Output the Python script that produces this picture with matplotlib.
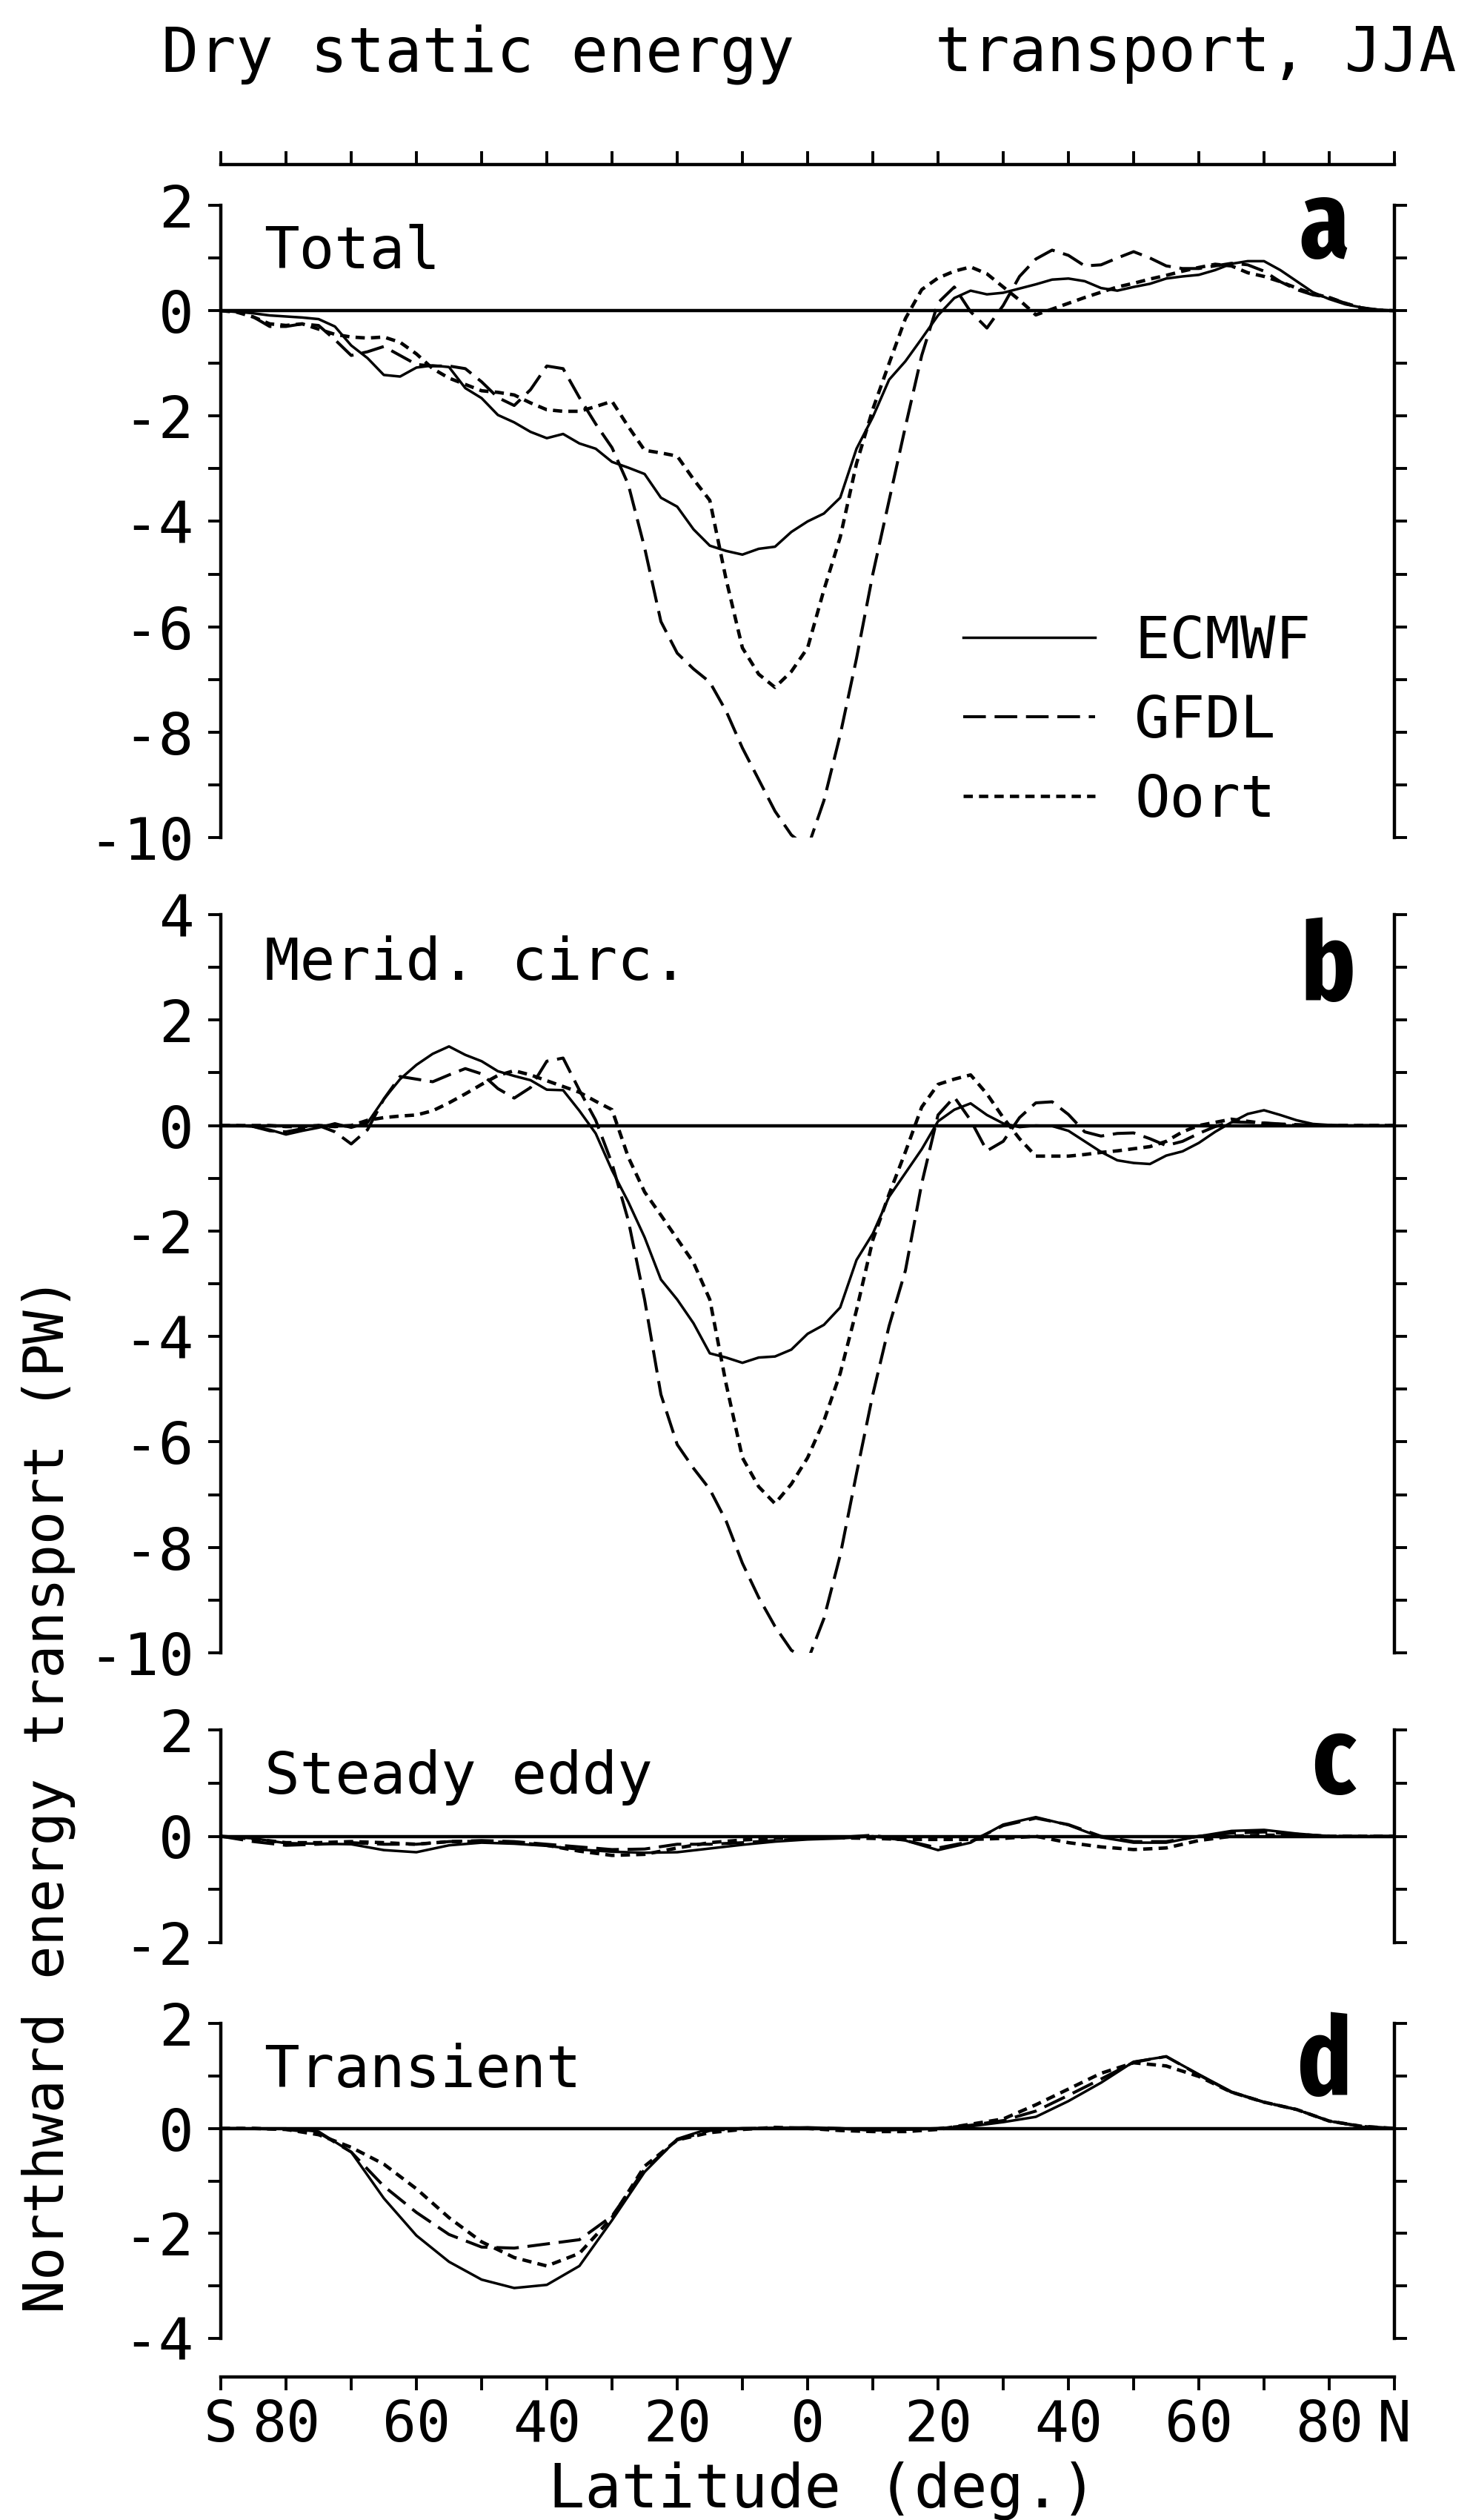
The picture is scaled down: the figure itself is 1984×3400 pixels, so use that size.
#!/usr/bin/env python3
"""
Dry static energy transport (JJA): total, mean meridional circulation,
steady eddy and transient eddy components for ECMWF, GFDL and Oort.
"""

import os

import matplotlib
matplotlib.use("Agg")
import matplotlib.pyplot as plt
import numpy as np
from matplotlib import font_manager

# latitude grids (deg, S negative)
lat_ab = np.arange(-90, 92.5, 2.5)
lat_cd = np.arange(-90, 95, 5)

# --- a: Total ---
total_ecmwf = [
    0.00, -0.02, -0.05, -0.09, -0.11, -0.13, -0.16, -0.30, -0.66, -0.90,
    -1.22, -1.25, -1.08, -1.04, -1.07, -1.47, -1.66, -1.98, -2.12, -2.30,
    -2.42, -2.34, -2.52, -2.62, -2.87, -2.98, -3.10, -3.55, -3.72, -4.15,
    -4.46, -4.56, -4.63, -4.52, -4.48, -4.20, -4.00, -3.85, -3.55, -2.62,
    -2.02, -1.31, -0.96, -0.53, -0.09, 0.24, 0.38, 0.31, 0.34, 0.42,
    0.50, 0.59, 0.61, 0.56, 0.43, 0.38, 0.45, 0.51, 0.61, 0.65,
    0.68, 0.77, 0.89, 0.94, 0.94, 0.77, 0.56, 0.35, 0.22, 0.12,
    0.06, 0.02, 0.00]
total_gfdl = [
    0.00, -0.02, -0.12, -0.30, -0.30, -0.25, -0.28, -0.55, -0.85, -0.78,
    -0.68, -0.85, -1.02, -1.05, -1.05, -1.10, -1.35, -1.65, -1.80, -1.50,
    -1.05, -1.10, -1.65, -2.15, -2.60, -3.30, -4.50, -5.90, -6.50, -6.80,
    -7.05, -7.60, -8.30, -8.90, -9.50, -9.95, -10.20, -9.30, -8.05, -6.60,
    -5.00, -3.60, -2.20, -0.85, 0.15, 0.45, -0.02, -0.33, 0.10, 0.65,
    0.98, 1.15, 1.05, 0.85, 0.87, 1.00, 1.12, 1.00, 0.85, 0.80,
    0.80, 0.85, 0.90, 0.87, 0.75, 0.55, 0.40, 0.30, 0.25, 0.14,
    0.05, 0.01, 0.00]
total_oort = [
    0.00, -0.03, -0.12, -0.25, -0.28, -0.25, -0.35, -0.45, -0.50, -0.52,
    -0.50, -0.60, -0.82, -1.10, -1.28, -1.40, -1.52, -1.55, -1.60, -1.75,
    -1.88, -1.91, -1.91, -1.82, -1.72, -2.20, -2.65, -2.70, -2.76, -3.20,
    -3.60, -5.10, -6.40, -6.90, -7.15, -6.85, -6.40, -5.30, -4.30, -2.90,
    -1.87, -1.00, -0.15, 0.40, 0.62, 0.75, 0.83, 0.70, 0.45, 0.20,
    -0.08, 0.03, 0.14, 0.25, 0.35, 0.45, 0.52, 0.60, 0.67, 0.75,
    0.82, 0.88, 0.85, 0.72, 0.65, 0.55, 0.43, 0.32, 0.25, 0.14,
    0.05, 0.01, 0.00]

# --- b: Mean meridional circulation ---
merid_ecmwf = [
    0.00, 0.00, -0.02, -0.08, -0.17, -0.10, -0.04, 0.04, -0.04, 0.05,
    0.50, 0.88, 1.15, 1.36, 1.50, 1.34, 1.22, 1.03, 0.94, 0.86,
    0.68, 0.67, 0.28, -0.15, -0.85, -1.45, -2.12, -2.92, -3.30, -3.75,
    -4.32, -4.40, -4.50, -4.40, -4.38, -4.25, -3.95, -3.78, -3.45, -2.55,
    -2.05, -1.35, -0.90, -0.45, 0.08, 0.30, 0.42, 0.20, 0.04, -0.03,
    0.00, -0.01, -0.10, -0.30, -0.50, -0.66, -0.71, -0.73, -0.57, -0.49,
    -0.33, -0.12, 0.06, 0.22, 0.29, 0.20, 0.10, 0.03, 0.01, 0.00,
    0.00, 0.00, 0.00]
merid_gfdl = [
    0.00, 0.00, -0.02, -0.10, -0.12, -0.06, 0.00, -0.12, -0.35, -0.08,
    0.50, 0.93, 0.88, 0.83, 0.96, 1.08, 0.98, 0.70, 0.52, 0.72,
    1.22, 1.28, 0.67, 0.10, -0.72, -1.80, -3.30, -5.10, -6.05, -6.50,
    -6.90, -7.50, -8.30, -8.95, -9.50, -9.95, -10.15, -9.35, -8.15, -6.60,
    -5.10, -3.80, -2.75, -1.10, 0.20, 0.54, 0.10, -0.48, -0.30, 0.15,
    0.43, 0.45, 0.21, -0.12, -0.20, -0.15, -0.14, -0.25, -0.38, -0.30,
    -0.15, -0.02, 0.07, 0.06, 0.05, 0.03, 0.02, 0.01, 0.00, 0.00,
    0.00, 0.00, 0.00]
merid_oort = [
    0.00, 0.00, 0.00, 0.00, -0.02, -0.02, 0.00, -0.02, 0.00, 0.10,
    0.15, 0.18, 0.20, 0.28, 0.43, 0.60, 0.78, 0.95, 1.04, 0.96,
    0.85, 0.74, 0.63, 0.46, 0.30, -0.60, -1.26, -1.70, -2.15, -2.60,
    -3.30, -4.90, -6.30, -6.85, -7.17, -6.80, -6.30, -5.60, -4.70, -3.50,
    -2.17, -1.30, -0.50, 0.35, 0.78, 0.88, 0.96, 0.60, 0.15, -0.25,
    -0.58, -0.58, -0.58, -0.55, -0.51, -0.48, -0.44, -0.40, -0.30, -0.12,
    0.00, 0.06, 0.12, 0.08, 0.04, 0.02, 0.00, 0.00, 0.00, 0.00,
    0.00, 0.00, 0.00]

# --- c: Steady eddy ---
steady_ecmwf = [
    0.00, -0.04, -0.13, -0.14, -0.15, -0.26, -0.30, -0.17, -0.12, -0.14,
    -0.18, -0.25, -0.29, -0.31, -0.30, -0.23, -0.16, -0.10, -0.06, -0.04,
    0.00, -0.08, -0.26, -0.12, 0.22, 0.36, 0.21, -0.02, -0.12, -0.12,
    0.00, 0.10, 0.12, 0.05, 0.00, 0.00, 0.00]
steady_gfdl = [
    0.00, -0.10, -0.17, -0.15, -0.12, -0.15, -0.15, -0.10, -0.08, -0.10,
    -0.15, -0.20, -0.25, -0.24, -0.15, -0.15, -0.12, -0.08, -0.04, -0.02,
    0.02, -0.08, -0.22, -0.10, 0.20, 0.34, 0.22, 0.00, -0.10, -0.10,
    0.00, 0.06, 0.08, 0.04, 0.00, 0.00, 0.00]
steady_oort = [
    0.00, -0.05, -0.12, -0.12, -0.10, -0.12, -0.15, -0.10, -0.10, -0.12,
    -0.17, -0.28, -0.36, -0.34, -0.22, -0.12, -0.07, -0.04, -0.02, -0.03,
    -0.04, -0.06, -0.06, -0.06, -0.04, 0.00, -0.12, -0.20, -0.25, -0.22,
    -0.08, 0.00, 0.02, 0.02, 0.00, 0.00, 0.00]

# --- d: Transient eddy ---
trans_ecmwf = [
    0.00, 0.00, 0.00, -0.06, -0.45, -1.33, -2.04, -2.54, -2.88, -3.04,
    -2.98, -2.62, -1.75, -0.83, -0.20, 0.00, 0.00, 0.01, 0.02, 0.00,
    -0.04, -0.02, 0.00, 0.04, 0.12, 0.22, 0.52, 0.87, 1.27, 1.37,
    1.03, 0.70, 0.50, 0.36, 0.14, 0.03, 0.00]
trans_gfdl = [
    0.00, 0.00, -0.02, -0.08, -0.45, -1.10, -1.60, -2.02, -2.26, -2.28,
    -2.20, -2.12, -1.67, -0.78, -0.22, -0.04, 0.00, 0.00, 0.01, 0.00,
    -0.03, -0.02, 0.00, 0.06, 0.15, 0.33, 0.63, 0.94, 1.26, 1.37,
    1.02, 0.69, 0.50, 0.36, 0.14, 0.04, 0.00]
trans_oort = [
    0.00, 0.00, -0.02, -0.12, -0.36, -0.68, -1.15, -1.70, -2.16, -2.46,
    -2.62, -2.38, -1.70, -0.72, -0.22, -0.08, -0.02, 0.02, 0.00, -0.04,
    -0.06, -0.06, -0.02, 0.08, 0.18, 0.45, 0.75, 1.05, 1.25, 1.19,
    0.99, 0.69, 0.50, 0.36, 0.14, 0.04, 0.00]

series_names = ["ECMWF", "GFDL", "Oort"]
panel_titles = ["Total", "Merid. circ.", "Steady eddy", "Transient"]
panel_letters = ["a", "b", "c", "d"]
panel_ylims = [(-10, 2), (-10, 4), (-2, 2), (-4, 2)]

xtick_values = np.arange(-90, 100, 10)
xtick_labels = ["S", "80", "", "60", "", "40", "", "20", "", "0", "",
                "20", "", "40", "", "60", "", "80", "N"]


def condensed_bold():
    """Pick a bold condensed/narrow sans face if one is installed."""
    picks = []
    for f in font_manager.fontManager.ttflist:
        name = (f.name + " " + os.path.basename(f.fname)).lower()
        flat = name.replace(" ", "").replace("-", "")
        if f.stretch == "normal" and "narrow" not in name \
                and "condensed" not in flat:
            continue
        if any(k in name for k in ("serif", "mono", "italic", "oblique")):
            continue
        w = f.weight
        if not isinstance(w, int):
            w = font_manager.weight_dict.get(w, 400)
        if w < 600:
            continue
        rank = 1
        if "extracondensed" in flat:
            rank = 0
        elif "semicondensed" in flat or "ultracondensed" in flat:
            rank = 2
        picks.append((rank, abs(w - 700), f.fname))
    if picks:
        return font_manager.FontProperties(fname=sorted(picks)[0][2])
    return font_manager.FontProperties(family="DejaVu Sans", weight="bold")


def main():
    plt.rcParams["font.family"] = ["DejaVu Sans Mono", "DejaVu Sans"]
    plt.rcParams["axes.unicode_minus"] = False
    plt.rcParams["lines.scale_dashes"] = False

    W, H = 1984, 3400
    X0, X1 = 298, 1882
    # (top, bottom) of each panel in pixels
    panel_px = [(277, 1130), (1234, 2230), (2334, 2621), (2730, 3155)]
    title_off = [85, 88, 86, 86]
    letter_off = [70, 115, 85, 96]
    letter_x = [0.9615, 0.9665, 0.9665, 0.9635]

    styles = {
        "ECMWF": dict(linestyle="-", linewidth=2.5),
        "GFDL": dict(linestyle=(0, (22, 8.5)), linewidth=2.9),
        "Oort": dict(linestyle=(0, (9, 6)), linewidth=3.3),
    }
    data = [
        (lat_ab, [total_ecmwf, total_gfdl, total_oort]),
        (lat_ab, [merid_ecmwf, merid_gfdl, merid_oort]),
        (lat_cd, [steady_ecmwf, steady_gfdl, steady_oort]),
        (lat_cd, [trans_ecmwf, trans_gfdl, trans_oort]),
    ]
    letter_font = condensed_bold()
    letter_font.set_size(106)

    fig = plt.figure(figsize=(W / 100, H / 100), dpi=100)
    axes = []
    for i, (top, bot) in enumerate(panel_px):
        ax = fig.add_axes([X0 / W, 1 - bot / H, (X1 - X0) / W, (bot - top) / H])
        ax.set_facecolor("none")
        lats, series = data[i]
        for name, vals in zip(series_names, series):
            ax.plot(lats, vals, color="black", label=name, **styles[name])
        ax.axhline(0, color="black", linewidth=3.2)

        lo, hi = panel_ylims[i]
        ax.set_xlim(-90, 90)
        ax.set_ylim(lo, hi)
        yt = np.arange(lo, hi + 1, 1)
        ax.set_yticks(yt)
        ax.set_yticklabels([str(v) if v % 2 == 0 else "" for v in yt])
        ax.set_xticks([])
        ax.tick_params(axis="y", which="both", left=True, right=True,
                       direction="out", length=12, width=2.8,
                       labelsize=57, pad=14)
        for s in ("top", "bottom"):
            ax.spines[s].set_visible(False)
        for s in ("left", "right"):
            ax.spines[s].set_linewidth(3.2)

        ax.annotate(panel_titles[i], xy=(0.037, 1), xycoords="axes fraction",
                    xytext=(0, -title_off[i]), textcoords="offset pixels",
                    ha="left", va="baseline", fontsize=57)
        ax.annotate(panel_letters[i], xy=(letter_x[i], 1),
                    xycoords="axes fraction",
                    xytext=(0, -letter_off[i]), textcoords="offset pixels",
                    ha="right", va="baseline", fontproperties=letter_font)
        axes.append(ax)

    axes[0].legend(loc="upper left", bbox_to_anchor=(0.6326, 0.354),
                   frameon=False, borderpad=0, borderaxespad=0,
                   handlelength=2.25, handletextpad=0.67, labelspacing=0.39,
                   fontsize=57)

    # --- rulers: top (ticks up) and bottom (ticks down, labelled) ---
    ax_top = fig.add_axes([X0 / W, 1 - 222 / H, (X1 - X0) / W, 1 / H])
    ax_bot = fig.add_axes([X0 / W, 1 - 3207 / H, (X1 - X0) / W, 1 / H])
    for rax in (ax_top, ax_bot):
        rax.set_facecolor("none")
        rax.set_xlim(-90, 90)
        rax.set_yticks([])
        for s in ("top", "left", "right"):
            rax.spines[s].set_visible(False)
        rax.spines["bottom"].set_linewidth(3.2)
        rax.set_xticks(xtick_values)
    ax_top.tick_params(axis="x", direction="in", length=13, width=2.8,
                       labelbottom=False)
    ax_bot.set_xticklabels(xtick_labels)
    ax_bot.tick_params(axis="x", direction="out", length=13, width=2.8,
                       labelsize=55, pad=8)

    fig.text(218 / W, 1 - 96 / H, "Dry static energy", ha="left",
             va="baseline", fontsize=60)
    fig.text(1965 / W, 1 - 96 / H, "transport, JJA", ha="right",
             va="baseline", fontsize=60)
    fig.text(1110 / W, 1 - 3383 / H, "Latitude (deg.)", ha="center",
             va="baseline", fontsize=59)
    fig.text(65 / W, 1 - 2422 / H, "Northward energy transport (PW)",
             ha="center", va="center", rotation=90, fontsize=54)

    fig.savefig("out.png", dpi=100)


if __name__ == "__main__":
    main()
